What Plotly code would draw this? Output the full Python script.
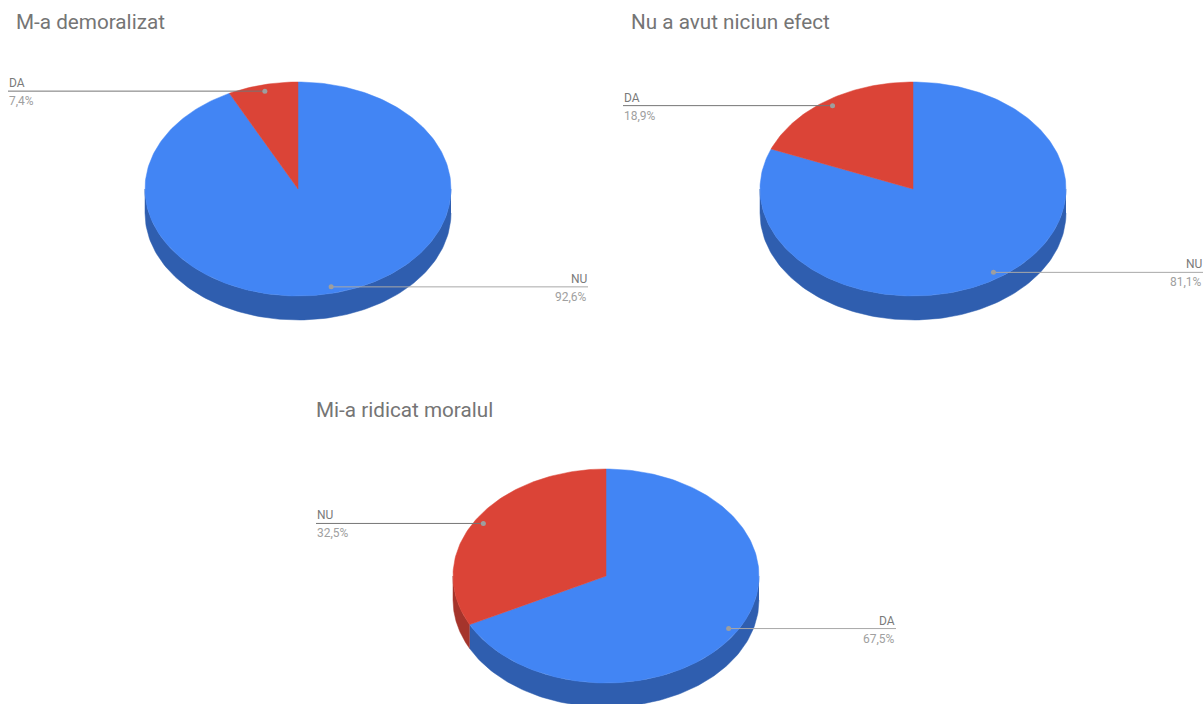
import numpy as np
import plotly.graph_objects as go

# ---- data ----
titles = ["M-a demoralizat", "Nu a avut niciun efect", "Mi-a ridicat moralul"]
labels_1 = ["NU", "DA"]
values_1 = [92.6, 7.4]
labels_2 = ["NU", "DA"]
values_2 = [81.1, 18.9]
labels_3 = ["DA", "NU"]
values_3 = [67.5, 32.5]

# ---- styles / layout ----
W, H = 1204, 704
centers = [(298, 189), (913, 189), (606, 576)]
title_pos = [(15, 22), (630, 22), (315, 410)]
RX, RY, DEPTH = 153, 107, 24
LABEL_REACH = 290
TOP_COLORS = ["#4285F4", "#DB4437"]
SIDE_COLORS = ["#2F5EAF", "#A5342B"]

charts = [(labels_1, values_1), (labels_2, values_2), (labels_3, values_3)]

fig = go.Figure()
annotations = []


def pt(cx, cy, ang):
    # ang measured clockwise from 12 o'clock, radians
    return cx + RX * np.sin(ang), cy - RY * np.cos(ang)


for ci, ((labs, vals), (cx, cy)) in enumerate(zip(charts, centers)):
    total = float(sum(vals))
    fr = np.array(vals) / total
    starts = np.concatenate([[0], np.cumsum(fr)[:-1]]) * 2 * np.pi
    ends = np.cumsum(fr) * 2 * np.pi

    # side walls (front half: angles between pi/2 and 3pi/2)
    for si in range(len(vals)):
        a0 = max(starts[si], np.pi / 2)
        a1 = min(ends[si], 3 * np.pi / 2)
        if a1 <= a0:
            continue
        t = np.linspace(a0, a1, 120)
        xs, ys = pt(cx, cy, t)
        px = np.concatenate([xs, xs[::-1]])
        py = np.concatenate([ys, ys[::-1] + DEPTH])
        fig.add_trace(go.Scatter(x=px, y=py, mode="lines", fill="toself",
                                 fillcolor=SIDE_COLORS[si % 2],
                                 line=dict(color=SIDE_COLORS[si % 2], width=0.5),
                                 hoverinfo="skip", showlegend=False))
    # tops
    for si in range(len(vals)):
        n = max(4, int(300 * fr[si]))
        t = np.linspace(starts[si], ends[si], n)
        xs, ys = pt(cx, cy, t)
        px = np.concatenate([[cx], xs, [cx]])
        py = np.concatenate([[cy], ys, [cy]])
        fig.add_trace(go.Scatter(x=px, y=py, mode="lines", fill="toself",
                                 fillcolor=TOP_COLORS[si % 2],
                                 line=dict(color=TOP_COLORS[si % 2], width=0.5),
                                 hoverinfo="skip", showlegend=False))

    # labels
    for si in range(len(vals)):
        mid = (starts[si] + ends[si]) / 2
        dx, dy = cx + 0.94 * RX * np.sin(mid), cy - 0.94 * RY * np.cos(mid)
        right = np.sin(mid) > 0
        ex = cx + LABEL_REACH if right else cx - LABEL_REACH
        lc = "#a8a8a8" if right else "#757575"
        fig.add_trace(go.Scatter(x=[dx, ex], y=[dy, dy], mode="lines",
                                 line=dict(color=lc, width=1),
                                 hoverinfo="skip", showlegend=False))
        fig.add_trace(go.Scatter(x=[dx], y=[dy], mode="markers",
                                 marker=dict(color="#9e9e9e", size=5),
                                 hoverinfo="skip", showlegend=False))
        anc = "right" if right else "left"
        pct = f"{vals[si]:.1f}%".replace(".", ",")
        annotations.append(dict(x=ex, y=dy, xref="x", yref="y", text=labs[si],
                                showarrow=False, xanchor=anc, yanchor="bottom",
                                yshift=-1, xshift=(1 if right else -1),
                                font=dict(family="Roboto", size=12, color="#7a7a7a")))
        annotations.append(dict(x=ex, y=dy, xref="x", yref="y", text=pct,
                                showarrow=False, xanchor=anc, yanchor="top",
                                yshift=-1, xshift=(1 if right else -1),
                                font=dict(family="Roboto", size=12, color="#a0a0a0")))

    tx, ty = title_pos[ci]
    annotations.append(dict(x=tx, y=ty, xref="x", yref="y", text=titles[ci],
                            showarrow=False, xanchor="left", yanchor="middle",
                            xshift=-1,
                            font=dict(family="Roboto", size=20.7, color="#757575")))

fig.update_layout(
    width=W, height=H,
    margin=dict(l=0, r=0, t=0, b=0),
    paper_bgcolor="white", plot_bgcolor="white",
    xaxis=dict(range=[0, W], visible=False, fixedrange=True),
    yaxis=dict(range=[H, 0], visible=False, fixedrange=True),
    annotations=annotations,
    showlegend=False,
)

fig.write_html("out.html", config={"displayModeBar": False},
               post_script="document.body.style.margin='0px';document.body.style.overflow='hidden';")
